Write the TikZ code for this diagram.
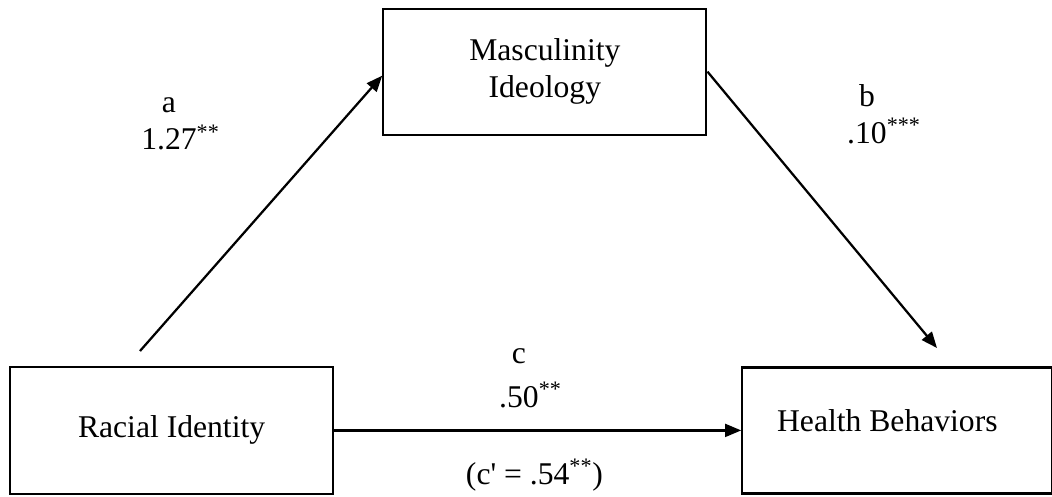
\documentclass[tikz,border=0pt]{standalone}
\usepackage{fontspec}
\setmainfont{Liberation Serif}
\usetikzlibrary{arrows.meta,positioning}
\tikzset{
  varbox/.style={draw, line width=1.6pt, align=center, inner sep=0pt,
    minimum width=8.075cm, minimum height=3.15cm},
  patharrow/.style={-{Triangle[length=0.4cm,width=0.32cm]}, line width=1.6pt},
  coeflabel/.style={align=center, inner sep=0pt}
}
\newcommand{\sig}[1]{\rlap{\textsuperscript{#1}}}

\begin{document}
\begin{tikzpicture}[font=\fontsize{22.5}{26.6}\selectfont]
    \useasboundingbox (0,0) rectangle (26.3,-12.4);
    \node[varbox, minimum height=3.175cm] (ri) at (4.29,-10.76) {Racial Identity};
    \node[varbox, above right=5.75cm and 1.2cm of ri] (mi) {Masculinity\\Ideology};
    \node[varbox, minimum width=7.75cm, right=10.175cm of ri] (hb)
      {\raisebox{0.5cm}{Health Behaviors}\hspace{0.5cm}};
    \coordinate (astart) at (3.5,-8.775);
    \coordinate (bend) at (23.425,-8.7);
    \draw[patharrow] (astart) -- ([yshift=-0.1cm]mi.west);
    \draw[patharrow] (mi.east) -- (bend);
    \draw[patharrow] (ri.east) -- (hb.west);
    % path coefficients
    \node[coeflabel] (alab) at (4.225,-3.1) {a\\1.27\sig{**}};
    \node[coeflabel] (blab) at (21.675,-2.85) {b\\.10\sig{***}};
    \node[coeflabel] (clab) at (12.975,-9.45) {c\\[0.17cm].50\sig{**}};
    \node[coeflabel, anchor=base] (cplab) at (13.36,-12.1) {(c\textquotesingle{} = .54\textsuperscript{**})};
  \end{tikzpicture}
\end{document}
